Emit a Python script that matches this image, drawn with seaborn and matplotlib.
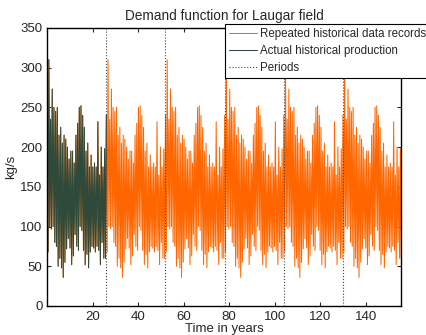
import numpy as np
import pandas as pd
import matplotlib
matplotlib.use("Agg")
import matplotlib.pyplot as plt
import seaborn as sns

# One 26-year historical record (alternating peak / trough values, kg/s)
period_values = [240, 68, 310, 100, 235, 97, 273, 100, 250, 80, 245, 75, 250, 50,
                 215, 60, 225, 48, 205, 36, 215, 55, 210, 72, 200, 85, 185, 73,
                 195, 52, 195, 63, 180, 90, 215, 75, 230, 70, 250, 100, 252, 95,
                 240, 70, 225, 52, 195, 65, 205, 48, 175, 68, 190, 75, 175, 73,
                 180, 68, 175, 75, 232, 70, 165, 52, 200, 80, 175, 60, 198, 60]
period_length = 26
n_periods = 6
period_marks = [26, 52, 78, 104, 130]
x_ticks = [20, 40, 60, 80, 100, 120, 140]
y_ticks = [0, 50, 100, 150, 200, 250, 300, 350]

n = len(period_values)
step = period_length / n
t_rep = np.arange(n * n_periods) * step
v_rep = np.tile(period_values, n_periods)
rep = pd.DataFrame({"t": t_rep, "v": v_rep})
hist = pd.DataFrame({"t": np.arange(n + 1) * step,
                     "v": list(period_values) + [period_values[0]]})

sns.set_style("ticks")
plt.rcParams["font.family"] = ["Liberation Sans", "DejaVu Sans"]
plt.rcParams["xtick.direction"] = "in"
plt.rcParams["ytick.direction"] = "in"

fig = plt.figure(figsize=(4.27, 3.35), dpi=100)
ax = fig.add_axes([0.111, 0.0866, 0.827, 0.83])

orange = "#ff6600"
green = "#2f4a3a"
sns.lineplot(data=rep, x="t", y="v", ax=ax, color=orange, lw=0.75,
             label="Repeated historical data records", estimator=None, sort=False)
sns.lineplot(data=hist, x="t", y="v", ax=ax, color=green, lw=0.75,
             label="Actual historical production", estimator=None, sort=False)
for i, p in enumerate(period_marks):
    ax.axvline(p, color="#444444", ls=":", lw=0.8,
               label="Periods" if i == 0 else None)

ax.set_xlim(0.1, 155.3)
ax.set_ylim(0, 350)
ax.set_xticks(x_ticks)
ax.set_yticks(y_ticks)
ax.tick_params(axis="both", labelsize=9.5, top=True, right=True, length=3, width=0.8)
for s in ax.spines.values():
    s.set_linewidth(1.0)
    s.set_color("black")
ax.set_title("Demand function for Laugar field", fontsize=9.8, pad=6)
ax.set_xlabel("Time in years", fontsize=9.5, labelpad=0)
ax.set_ylabel("kg/s", fontsize=9.5, labelpad=2)

leg = ax.legend(loc="upper left", bbox_to_anchor=(225 / 427, 1 - 24 / 335),
                bbox_transform=fig.transFigure, fontsize=8.3, frameon=True,
                fancybox=False, edgecolor="black", framealpha=1,
                borderpad=0.35, labelspacing=0.42, handlelength=2.4,
                handletextpad=0.3, borderaxespad=0)
leg.get_frame().set_linewidth(0.8)

fig.savefig("out.png", dpi=100)
